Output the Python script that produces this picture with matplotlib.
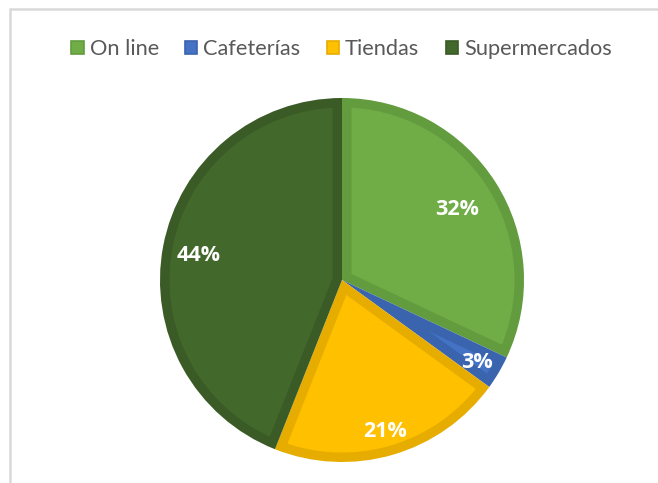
import numpy as np
import matplotlib
matplotlib.use("Agg")
import matplotlib.pyplot as plt
from matplotlib.patches import Rectangle, Patch, Polygon

# Share of purchases by channel (%)
categories = ["On line", "Cafeterías", "Tiendas", "Supermercados"]
shares = [32, 3, 21, 44]
fill_colors = ["#70AD47", "#4472C4", "#FFC000", "#43682B"]
edge_colors = ["#629C3E", "#3B64AE", "#E6AD00", "#3A5A26"]
label_radius = [0.75, 0.86, 0.85, 0.80]

W, H = 658, 483
DPI = 100
plt.rcParams["font.family"] = ["Lato", "DejaVu Sans"]

fig = plt.figure(figsize=(W / DPI, H / DPI), dpi=DPI)
ax = fig.add_axes([0, 0, 1, 1])

cx, cy, R = 342, H - 280, 182
border = 9.5

# whole slices in the darker outline shade
wedges, _ = ax.pie(shares, colors=edge_colors, startangle=90,
                   counterclock=False, center=(cx, cy), radius=R,
                   frame=True, wedgeprops=dict(linewidth=0))
ax.set_xlim(0, W)
ax.set_ylim(0, H)
ax.set_aspect("equal")
ax.axis("off")

# chart area border
ax.add_patch(Rectangle((10, -20), W + 20, H - 9 + 20, fill=False,
                       edgecolor="#D9D9D9", linewidth=1.8))


def inset_slice(w, b):
    """Polygon of the slice shrunk inward by b on every side."""
    t1, t2 = np.deg2rad(w.theta1), np.deg2rad(w.theta2)
    half = (t2 - t1) / 2
    ox, oy = w.center
    r_in = w.r - b
    apex_d = b / np.sin(half)
    mid = t1 + half
    apex = (ox + apex_d * np.cos(mid), oy + apex_d * np.sin(mid))
    delta = np.arcsin(b / r_in)
    th = np.linspace(t1 + delta, t2 - delta, 200)
    arc = np.column_stack([ox + r_in * np.cos(th), oy + r_in * np.sin(th)])
    return np.vstack([apex, arc])


for w, fc in zip(wedges, fill_colors):
    ax.add_patch(Polygon(inset_slice(w, border), closed=True,
                         facecolor=fc, edgecolor="none"))

for w, share, f in zip(wedges, shares, label_radius):
    mid = np.deg2rad((w.theta1 + w.theta2) / 2)
    x = cx + f * R * np.cos(mid)
    y = cy + f * R * np.sin(mid)
    ax.text(x, y, f"{share}%", ha="center", va="center_baseline",
            color="white", fontsize=15.5, fontweight="bold",
            family=["Open Sans", "DejaVu Sans"])

handles = [Patch(facecolor=fc, edgecolor=ec, linewidth=1.2)
           for fc, ec in zip(fill_colors, edge_colors)]
leg = fig.legend(handles, categories, loc="center", ncol=4,
                 bbox_to_anchor=(341.5 / W, 1 - 49 / H), frameon=False,
                 fontsize=15.7, handlelength=0.56, handleheight=0.56,
                 handletextpad=0.28, columnspacing=1.2, borderpad=0)
for t in leg.get_texts():
    t.set_color("#595959")

fig.savefig("out.png", dpi=DPI, facecolor="white")
